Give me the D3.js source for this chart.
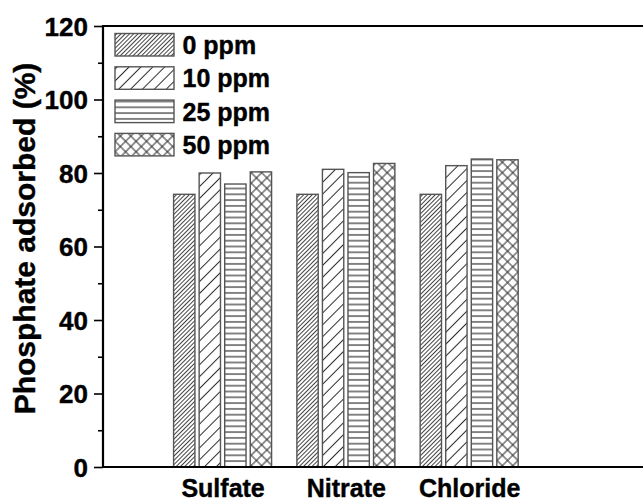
<!DOCTYPE html>
<html><head><meta charset="utf-8">
<script src="https://cdn.jsdelivr.net/npm/d3@7"></script>
<style>
html,body{margin:0;padding:0;background:#fff;}
text{font-family:"Liberation Sans",Arial,sans-serif;font-weight:bold;fill:#000;stroke:#000;stroke-width:0.4px;}
</style></head>
<body><svg id="chart" width="643" height="502"></svg>
<script>
const categories = ["Sulfate", "Nitrate", "Chloride"];
const seriesNames = ["0 ppm", "10 ppm", "25 ppm", "50 ppm"];
const values0 = [74.2, 74.2, 74.2];
const values10 = [80.0, 81.0, 82.0];
const values25 = [77.0, 80.1, 83.8];
const values50 = [80.3, 82.6, 83.6];
const yTicks = [0, 20, 40, 60, 80, 100, 120];
const yMinorTicks = [10, 30, 50, 70, 90, 110];
const yTitle = "Phosphate adsorbed (%)";

(function () {
const seriesValues = [values0, values10, values25, values50];
const svg = d3.select("#chart");
const pLeft = 103, pRight = 643, pTop = 26, pBottom = 467;

const y = d3.scaleLinear().domain([0, 120]).range([pBottom, pTop]);
const x = d3.scaleLinear().domain([0.03, 4.41]).range([pLeft, pRight]);
const xs = d3.scaleBand().domain(seriesNames).range([-49, 49]).paddingInner(0.165).paddingOuter(0);

// patterns
const defs = svg.append("defs");
function diag(id, s, col) {
  const p = defs.append("pattern").attr("id", id).attr("patternUnits", "userSpaceOnUse")
    .attr("width", s).attr("height", s).attr("patternTransform", "rotate(45)");
  p.append("rect").attr("width", s).attr("height", s).attr("fill", "#fff");
  p.append("line").attr("x1", s/2).attr("y1", 0).attr("x2", s/2).attr("y2", s)
    .attr("stroke", col).attr("stroke-width", 1);
}
diag("p0", 3.0, "#444");
diag("p1", 8.4, "#2a2a2a");
{
  const s = 5.8;
  const p = defs.append("pattern").attr("id", "p2").attr("patternUnits", "userSpaceOnUse")
    .attr("width", 10).attr("height", s);
  p.append("rect").attr("width", 10).attr("height", s).attr("fill", "#fff");
  p.append("line").attr("x1", 0).attr("y1", s/2).attr("x2", 10).attr("y2", s/2)
    .attr("stroke", "#333").attr("stroke-width", 1.2);
}
{
  const s = 7.4;
  const p = defs.append("pattern").attr("id", "p3").attr("patternUnits", "userSpaceOnUse")
    .attr("width", s).attr("height", s).attr("patternTransform", "rotate(45)");
  p.append("rect").attr("width", s).attr("height", s).attr("fill", "#fff");
  p.append("line").attr("x1", s/2).attr("y1", 0).attr("x2", s/2).attr("y2", s)
    .attr("stroke", "#2a2a2a").attr("stroke-width", 1);
  p.append("line").attr("x1", 0).attr("y1", s/2).attr("x2", s).attr("y2", s/2)
    .attr("stroke", "#2a2a2a").attr("stroke-width", 1);
}
const fills = ["url(#p0)", "url(#p1)", "url(#p2)", "url(#p3)"];

// bars
seriesNames.forEach((name, si) => {
  svg.append("g").selectAll("rect").data(seriesValues[si]).join("rect")
    .attr("x", (d, i) => x(i + 1) + xs(name))
    .attr("width", xs.bandwidth())
    .attr("y", d => y(d))
    .attr("height", d => y(0) - y(d))
    .attr("fill", fills[si])
    .attr("stroke", "#555").attr("stroke-width", 1.4);
});

// axes
const yAxis = d3.axisLeft(y).tickValues(yTicks).tickSize(9).tickPadding(6);
const gy = svg.append("g").attr("transform", `translate(${pLeft},0)`).call(yAxis);
gy.select(".domain").remove();
gy.selectAll(".tick line").attr("stroke", "#000").attr("stroke-width", 1.6);
gy.selectAll(".tick text").style("font-size", "26px").attr("dy", "0.36em");
const gym = svg.append("g").attr("transform", `translate(${pLeft},0)`)
  .call(d3.axisLeft(y).tickValues(yMinorTicks).tickSize(5).tickFormat(""));
gym.select(".domain").remove();
gym.selectAll(".tick line").attr("stroke", "#000").attr("stroke-width", 1.6);

const xAxis = d3.axisBottom(x).tickValues([1, 2, 3]).tickSize(0).tickPadding(0)
  .tickFormat((d, i) => categories[i]);
const gx = svg.append("g").attr("transform", `translate(0,${pBottom})`).call(xAxis);
gx.select(".domain").remove();
gx.selectAll(".tick text").style("font-size", "25px").attr("y", 30).attr("dy", 0);

// frame lines
svg.append("line").attr("x1", pLeft).attr("x2", pRight).attr("y1", pBottom).attr("y2", pBottom)
  .attr("stroke", "#000").attr("stroke-width", 2.2);
svg.append("line").attr("x1", pLeft).attr("x2", pRight).attr("y1", pTop).attr("y2", pTop)
  .attr("stroke", "#000").attr("stroke-width", 2.2);
svg.append("line").attr("x1", pLeft).attr("x2", pLeft).attr("y1", pTop - 1).attr("y2", pBottom + 1)
  .attr("stroke", "#000").attr("stroke-width", 2.2);

// y title
svg.append("text").attr("transform", `translate(35,${(62 + 415) / 2}) rotate(-90)`)
  .attr("text-anchor", "middle").style("font-size", "30px").text(yTitle);

// legend
const lg = svg.append("g");
seriesNames.forEach((name, i) => {
  const yy = 33.5 + i * 33.3;
  lg.append("rect").attr("x", 115).attr("y", yy).attr("width", 59).attr("height", 22.5)
    .attr("fill", fills[i]).attr("stroke", "#555").attr("stroke-width", 1.4);
  lg.append("text").attr("x", 182.5).attr("y", yy + 20.5).style("font-size", "25px").text(name);
});
})();
</script></body></html>
